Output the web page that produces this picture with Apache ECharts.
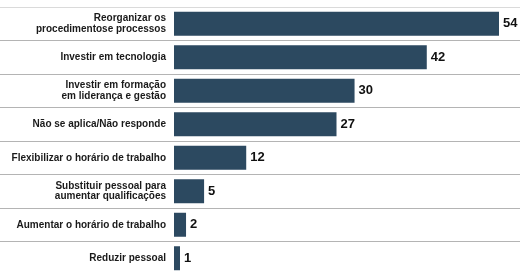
<!DOCTYPE html>
<html>
<head>
<meta charset="utf-8">
<script src="https://cdn.jsdelivr.net/npm/echarts@6/dist/echarts.min.js"></script>
<style>
    html, body { margin: 0; padding: 0; background: #fff; }
    #chart { width: 520px; height: 275px; }
</style>
</head>
<body>
<div id="chart"></div>
<script>
// categories, top to bottom
var categories = [
    'Reorganizar os\nprocedimentose processos',
    'Investir em tecnologia',
    'Investir em formação\nem liderança e gestão',
    'Não se aplica/Não responde',
    'Flexibilizar o horário de trabalho',
    'Substituir pessoal para\naumentar qualificações',
    'Aumentar o horário de trabalho',
    'Reduzir pessoal'
];
var values = [54, 42, 30, 27, 12, 5, 2, 1];

var barColor = '#2c4960';

var myChart = echarts.init(document.getElementById('chart'));
var option = {
    animation: false,
    grid: [
        // full-width grid only for the row separators
        { left: 0, right: 0, top: 7, height: 271 },
        // bars
        { left: 174, right: 21, top: 7, height: 271 }
    ],
    xAxis: [
        { gridIndex: 0, type: 'value', min: 0, max: 1, show: false },
        {
            gridIndex: 1,
            type: 'value',
            min: 0,
            max: 54,
            axisLine: { show: false },
            axisTick: { show: false },
            axisLabel: { show: false },
            splitLine: { show: false }
        }
    ],
    yAxis: [
        {
            gridIndex: 0,
            type: 'category',
            inverse: true,
            data: categories,
            axisLine: { show: false },
            axisTick: { show: false },
            axisLabel: { show: false },
            splitLine: {
                show: true,
                lineStyle: {
                    color: ['#dadada', '#b4b4b4', '#b4b4b4', '#b4b4b4', '#b4b4b4', '#b4b4b4', '#b4b4b4', '#b4b4b4', '#ffffff'],
                    width: 1
                }
            }
        },
        {
            gridIndex: 1,
            type: 'category',
            inverse: true,
            data: categories,
            axisLine: { show: false },
            axisTick: { show: false },
            splitLine: { show: false },
            axisLabel: {
                margin: 8,
                align: 'right',
                color: '#1a1a1a',
                fontFamily: 'Liberation Sans',
                fontWeight: 'bold',
                fontSize: 10,
                lineHeight: 10.5
            }
        }
    ],
    series: [
        {
            type: 'bar',
            xAxisIndex: 1,
            yAxisIndex: 1,
            data: values,
            barWidth: 24,
            itemStyle: { color: barColor },
            label: {
                show: true,
                position: 'right',
                distance: 4,
                color: '#111',
                fontFamily: 'Liberation Sans',
                fontWeight: 'bold',
                fontSize: 13
            }
        }
    ]
};
myChart.setOption(option);
</script>
</body>
</html>
